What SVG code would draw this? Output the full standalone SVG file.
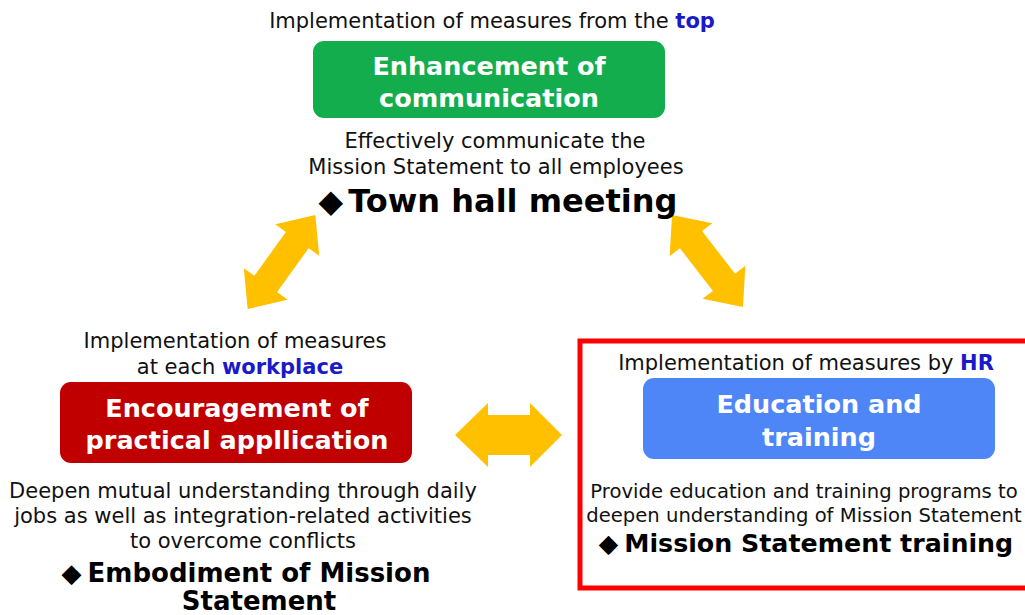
<svg xmlns="http://www.w3.org/2000/svg" width="1025" height="615" viewBox="0 0 1025 615">
  <style>
    text { font-family: "DejaVu Sans", Verdana, sans-serif; text-anchor: middle; fill: #111; }
    .lbl { font-size: 21px; }
    .desc { font-size: 21px; }
    .desc-r { font-size: 19.6px; }
    .em { font-weight: bold; fill: #1a1ac8; }
    .box { font-size: 25.5px; font-weight: bold; fill: #fff; }
    .key { font-weight: bold; fill: #000; }
    .arrow { fill: #ffc000; }
  </style>
  <defs>
    <polygon id="dbl" class="arrow" points="-58,0 -27,-27 -27,-14 27,-14 27,-27 58,0 27,27 27,14 -27,14 -27,27"/>
  </defs>

  <!-- connectors -->
  <g id="connectors">
    <use href="#dbl" transform="translate(281.5,262) rotate(-54.3)"/>
    <use href="#dbl" transform="translate(707.5,261) rotate(52.3)"/>
    <polygon class="arrow" points="455,435 488,403 488,415 530,415 530,403 562,435 530,467 530,455 488,455 488,467"/>
  </g>

  <!-- top node -->
  <g id="node-communication">
    <text class="lbl" x="492" y="28">Implementation of measures from the <tspan class="em">top</tspan></text>
    <rect x="313" y="41" width="352" height="77" rx="11" fill="#13ad4e"/>
    <text class="box" x="489" y="75">Enhancement of</text>
    <text class="box" x="489" y="107">communication</text>
    <text class="desc" x="495" y="148">Effectively communicate the</text>
    <text class="desc" x="496" y="174">Mission Statement to all employees</text>
    <text class="key" x="498" y="212" font-size="32">◆<tspan dx="5">Town hall meeting</tspan></text>
  </g>

  <!-- left node -->
  <g id="node-practice">
    <text class="lbl" x="235" y="348">Implementation of measures</text>
    <text class="lbl" x="240" y="374">at each <tspan class="em">workplace</tspan></text>
    <rect x="60" y="382" width="352" height="81" rx="11" fill="#c00000"/>
    <text class="box" x="237" y="417">Encouragement of</text>
    <text class="box" x="237" y="449">practical appllication</text>
    <text class="desc" x="243" y="498">Deepen mutual understanding through daily</text>
    <text class="desc" x="243" y="523">jobs as well as integration-related activities</text>
    <text class="desc" x="243" y="548">to overcome conflicts</text>
    <text class="key" x="246" y="582" font-size="26">◆<tspan dx="6">Embodiment of Mission</tspan></text>
    <text class="key" x="259" y="610" font-size="26">Statement</text>
  </g>

  <!-- right node -->
  <g id="node-training">
    <rect x="580" y="341" width="450" height="247" fill="none" stroke="#ff0000" stroke-width="5"/>
    <text class="lbl" x="806" y="370">Implementation of measures by <tspan class="em">HR</tspan></text>
    <rect x="643" y="378" width="352" height="81" rx="11" fill="#4f86f7"/>
    <text class="box" x="819" y="413">Education and</text>
    <text class="box" x="819" y="446">training</text>
    <text class="desc-r" x="804" y="498">Provide education and training programs to</text>
    <text class="desc-r" x="804" y="522">deepen understanding of Mission Statement</text>
    <text class="key" x="806" y="552" font-size="25.3">◆<tspan dx="6">Mission Statement training</tspan></text>
  </g>
</svg>
